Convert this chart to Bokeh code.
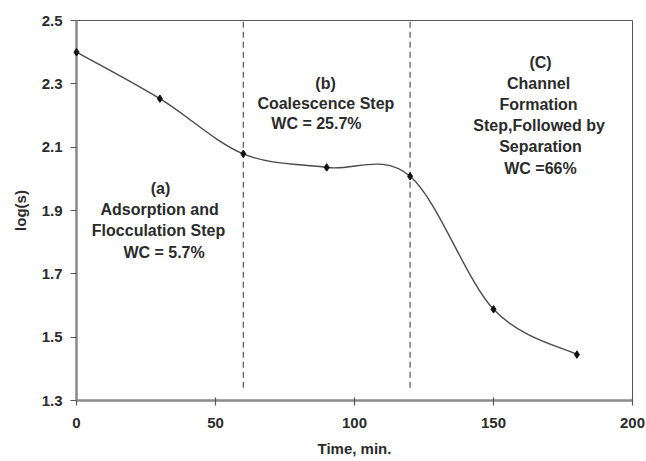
from bokeh.plotting import figure
from bokeh.models import FixedTicker, ColumnDataSource
from bokeh.core.properties import value
from bokeh.embed import file_html
from bokeh.resources import INLINE

# measured data: time (min) vs log(s)
time_min = [0, 30, 60, 90, 120, 150, 180]
log_s = [2.400, 2.253, 2.079, 2.036, 2.008, 1.588, 1.445]

# step boundaries (dashed lines)
boundary_x = [60, 120]
boundary_y0 = [1.34, 1.34]
boundary_y1 = [2.5, 2.5]

x_ticks = [0, 50, 100, 150, 200]
y_ticks = [1.3, 1.5, 1.7, 1.9, 2.1, 2.3, 2.5]

# annotation lines: (text, x, y) in data units
notes = [
    ("(a)", 30.2, 1.969),
    ("Adsorption and", 29.9, 1.904),
    ("Flocculation Step", 29.5, 1.837),
    ("WC = 5.7%", 31.5, 1.768),
    ("(b)", 89.6, 2.301),
    ("Coalescence Step", 89.7, 2.238),
    ("WC = 25.7%", 86.3, 2.175),
    ("(C)", 166.9, 2.367),
    ("Channel", 166.2, 2.301),
    ("Formation", 166.2, 2.235),
    ("Step,Followed by", 166.4, 2.168),
    ("Separation", 166.9, 2.102),
    ("WC =66%", 166.9, 2.033),
]

FONT = "Liberation Sans"
TXT = "#2b2b2b"

p = figure(width=646, height=461, x_range=(0, 200), y_range=(1.3, 2.5),
           output_backend="svg", toolbar_location=None,
           min_border_left=76, min_border_right=14,
           min_border_top=20, min_border_bottom=61)
p.background_fill_color = "white"
p.border_fill_color = "white"
p.outline_line_color = "#555555"
p.outline_line_width = 1
p.xgrid.visible = False
p.ygrid.visible = False

# smooth curve through the points (Catmull-Rom as cubic Bezier segments)
n = len(time_min)
bx0, by0, bx1, by1, cx0, cy0, cx1, cy1 = [], [], [], [], [], [], [], []
for i in range(n - 1):
    xm = time_min[i - 1] if i > 0 else time_min[i]
    ym = log_s[i - 1] if i > 0 else log_s[i]
    xp2 = time_min[i + 2] if i + 2 < n else time_min[i + 1]
    yp2 = log_s[i + 2] if i + 2 < n else log_s[i + 1]
    bx0.append(time_min[i]); by0.append(log_s[i])
    bx1.append(time_min[i + 1]); by1.append(log_s[i + 1])
    cx0.append(time_min[i] + (time_min[i + 1] - xm) / 6.0)
    cy0.append(log_s[i] + (log_s[i + 1] - ym) / 6.0)
    cx1.append(time_min[i + 1] - (xp2 - time_min[i]) / 6.0)
    cy1.append(log_s[i + 1] - (yp2 - log_s[i]) / 6.0)
p.bezier(x0=bx0, y0=by0, x1=bx1, y1=by1, cx0=cx0, cy0=cy0, cx1=cx1, cy1=cy1,
         line_color="#4a4a4a", line_width=1.4)

p.segment(x0=boundary_x, y0=boundary_y0, x1=boundary_x, y1=boundary_y1,
          line_color="#555555", line_width=1.2, line_dash="6 4")

# markers drawn above the axes so the one at t=0 is not clipped
p.scatter(time_min, log_s, marker="diamond", size=7.5, color="#111111",
          level="overlay")

src = ColumnDataSource(dict(t=[n_[0] for n_ in notes],
                            x=[n_[1] for n_ in notes],
                            y=[n_[2] for n_ in notes]))
p.text(x="x", y="y", text="t", source=src, text_align="center",
       text_baseline="middle", text_font=value(FONT), text_font_size="16px",
       text_font_style="bold", text_color=TXT)

# axes
p.xaxis.ticker = FixedTicker(ticks=x_ticks)
p.yaxis.ticker = FixedTicker(ticks=y_ticks)
p.yaxis.major_label_overrides = {t: f"{t:.1f}" for t in y_ticks}
p.xaxis.axis_label = "Time, min."
p.yaxis.axis_label = "log(s)"
for ax in (p.xaxis, p.yaxis):
    ax.axis_line_color = "#8a8a8a"
    ax.axis_line_width = 2.5
    ax.major_tick_line_color = "#555555"
    ax.major_tick_line_width = 1.2
    ax.minor_tick_line_color = None
    ax.major_label_text_font = FONT
    ax.major_label_text_font_size = "15px"
    ax.major_label_text_font_style = "bold"
    ax.major_label_text_color = TXT
    ax.axis_label_text_font = FONT
    ax.axis_label_text_font_size = "15px"
    ax.axis_label_text_font_style = "bold"
    ax.axis_label_text_color = TXT
p.xaxis.major_tick_in = 3
p.xaxis.major_tick_out = 5
p.yaxis.major_tick_in = 0
p.yaxis.major_tick_out = 6
p.xaxis.major_label_standoff = 12
p.yaxis.major_label_standoff = 8
p.xaxis.axis_label_standoff = 9
p.yaxis.axis_label_standoff = 10

open("out.html", "w").write(file_html(p, INLINE))
